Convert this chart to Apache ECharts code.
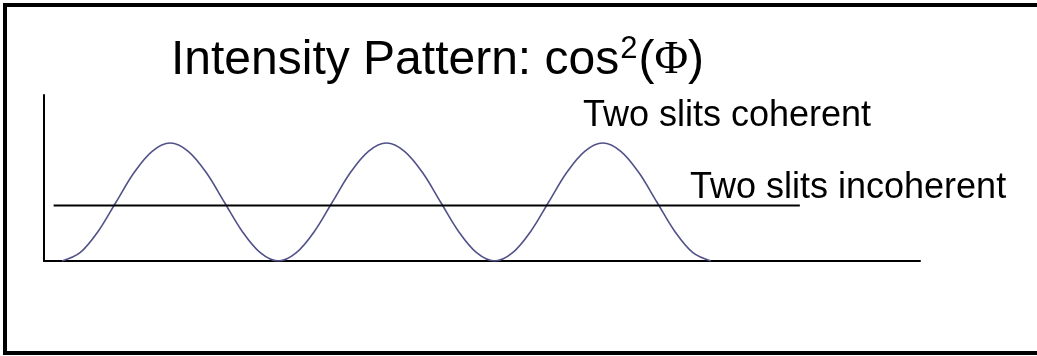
<!DOCTYPE html>
<html>
<head>
<meta charset="utf-8">
<script src="https://cdn.jsdelivr.net/npm/echarts@6/dist/echarts.min.js"></script>
<style>
  html, body { margin: 0; padding: 0; background: #fff; }
  #chart { width: 1037px; height: 356px; }
</style>
</head>
<body>
<div id="chart"></div>
<script>
// ============ 数据 ============
// phase Φ in degrees, one point every 15°
const phaseDeg = [-90, -75, -60, -45, -30, -15, 0, 15, 30, 45, 60, 75, 90,
  105, 120, 135, 150, 165, 180, 195, 210, 225, 240, 255, 270,
  285, 300, 315, 330, 345, 360, 375, 390, 405, 420, 435, 450];
// relative intensity, two slits coherent
const coherent = [0, 0.07, 0.25, 0.5, 0.75, 0.93, 1, 0.93, 0.75, 0.5, 0.25, 0.07, 0,
  0.07, 0.25, 0.5, 0.75, 0.93, 1, 0.93, 0.75, 0.5, 0.25, 0.07, 0,
  0.07, 0.25, 0.5, 0.75, 0.93, 1, 0.93, 0.75, 0.5, 0.25, 0.07, 0];
// two slits incoherent: flat line
const incoherentX = [-97, 524];
const incoherentY = [0.47, 0.47];
const labelCoherent = 'Two slits coherent';
const labelIncoherent = 'Two slits incoherent';

const chart = echarts.init(document.getElementById('chart'));
const FONT = '"Liberation Sans", Arial, sans-serif';

chart.setOption({
  animation: false,
  backgroundColor: '#fff',
  title: {
    left: 171,
    top: 33,
    padding: 0,
    text: '{a|Intensity Pattern: cos}{s|2}{a|(}{f|Φ}{a|)}',
    textStyle: {
      fontWeight: 'normal',
      rich: {
        a: { fontFamily: FONT, fontSize: 48, fontWeight: 'normal', color: '#000', lineHeight: 56 },
        s: { fontFamily: FONT, fontSize: 31, fontWeight: 'normal', color: '#000', verticalAlign: 'top', lineHeight: 56, padding: [1, 1, 0, 1] },
        f: { fontFamily: '"Liberation Serif", "Times New Roman", serif', fontSize: 46, fontWeight: 'normal', color: '#000', lineHeight: 56 },
      },
    },
  },
  grid: { left: 44, right: 117, top: 95, bottom: 95 },
  xAxis: {
    type: 'value', min: -105, max: 624,
    axisLine: { show: true, onZero: false, lineStyle: { color: '#000', width: 2 } },
    axisTick: { show: false }, axisLabel: { show: false }, splitLine: { show: false },
  },
  yAxis: {
    type: 'value', min: 0, max: 1.407,
    axisLine: { show: true, onZero: false, lineStyle: { color: '#000', width: 2 } },
    axisTick: { show: false }, axisLabel: { show: false }, splitLine: { show: false },
  },
  series: [
    {
      name: labelCoherent, type: 'line', smooth: 0.35, symbol: 'none',
      data: phaseDeg.map((p, i) => [p, coherent[i]]),
      lineStyle: { color: '#52528a', width: 1.6 },
    },
    {
      name: labelIncoherent, type: 'line', symbol: 'none',
      data: incoherentX.map((p, i) => [p, incoherentY[i]]),
      lineStyle: { color: '#000', width: 2 },
    },
  ],
  graphic: [
    { type: 'rect', shape: { x: 5, y: 5, width: 1080, height: 348 }, style: { fill: null, stroke: '#000', lineWidth: 4 } },
    { type: 'text', left: 583, top: 98, style: { text: labelCoherent, font: '36px ' + FONT, fill: '#000' } },
    { type: 'text', left: 690, top: 170, style: { text: labelIncoherent, font: '36px ' + FONT, fill: '#000' } },
  ],
});
</script>
</body>
</html>
